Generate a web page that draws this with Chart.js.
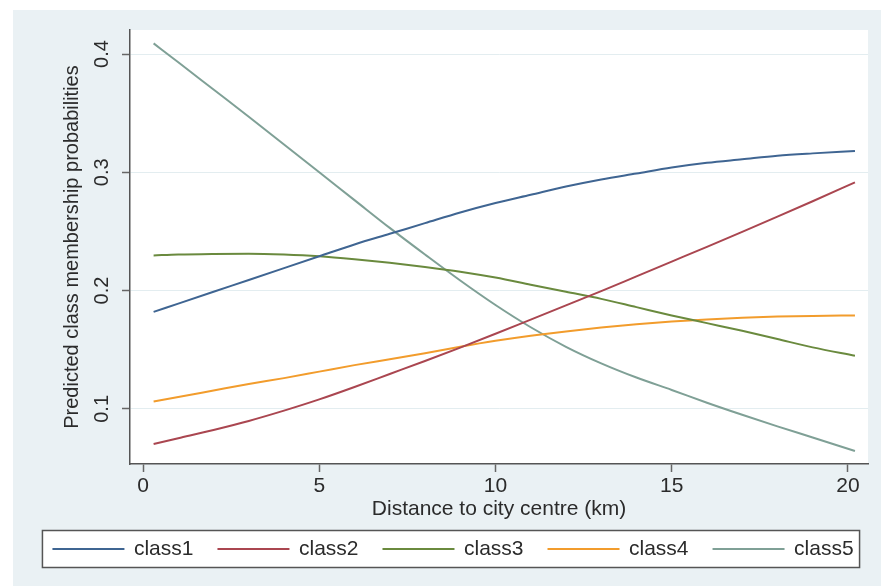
<!DOCTYPE html>
<html>
<head>
<meta charset="utf-8">
<script src="https://cdn.jsdelivr.net/npm/chart.js@4.4.1/dist/chart.umd.min.js"></script>
<style>
  html, body { margin: 0; padding: 0; background: #ffffff; }
  #panel { position: absolute; left: 13px; top: 10px; width: 868px; height: 576px; background: #eaf1f4; }
  canvas { display: block; }
</style>
</head>
<body>
<div id="panel"><canvas id="c" width="868" height="576"></canvas></div>
<script>
const xs = [0.3, 1, 2, 3, 4, 5, 6, 7, 8, 9, 10, 11, 12, 13, 14, 15, 16, 17, 18, 19, 20.2];
const class1 = [0.182, 0.189, 0.199, 0.209, 0.219, 0.229, 0.239, 0.248, 0.257, 0.266, 0.274, 0.281, 0.288, 0.294, 0.299, 0.304, 0.308, 0.311, 0.314, 0.316, 0.318];
const class2 = [0.0703, 0.0752, 0.0822, 0.0898, 0.0985, 0.108, 0.1185, 0.1295, 0.1405, 0.1518, 0.1635, 0.1755, 0.1875, 0.1995, 0.212, 0.2245, 0.237, 0.2497, 0.2625, 0.2755, 0.2915];
const class3 = [0.2297, 0.2305, 0.231, 0.2312, 0.2305, 0.229, 0.2265, 0.2235, 0.220, 0.216, 0.211, 0.205, 0.199, 0.193, 0.186, 0.179, 0.1725, 0.166, 0.159, 0.152, 0.145];
const class4 = [0.1062, 0.110, 0.1155, 0.121, 0.126, 0.1315, 0.137, 0.142, 0.147, 0.1525, 0.1575, 0.1618, 0.1655, 0.1687, 0.1715, 0.1738, 0.1756, 0.177, 0.178, 0.1786, 0.179];
const class5 = [0.409, 0.393, 0.370, 0.347, 0.3235, 0.300, 0.2765, 0.253, 0.2305, 0.2085, 0.1878, 0.169, 0.1525, 0.1385, 0.1265, 0.116, 0.1052, 0.095, 0.0852, 0.0758, 0.0644];
const seriesNames = ['class1', 'class2', 'class3', 'class4', 'class5'];
const xTicks = [0, 5, 10, 15, 20];
const yTicks = [0.1, 0.2, 0.3, 0.4];
const yTickLabels = ['0.1', '0.2', '0.3', '0.4'];
const xTitle = 'Distance to city centre (km)';
const yTitle = 'Predicted class membership probabilities';

const colors = ['#3f6592', '#aa4650', '#6a8a3e', '#f29c2c', '#7fa096'];
const allSeries = [class1, class2, class3, class4, class5];

const FONT = "'Liberation Sans', Arial, Helvetica, sans-serif";
const TEXT = '#2b2b2b';

const bgPlugin = {
  id: 'bg',
  beforeDraw(chart) {
    const ctx = chart.ctx;
    const a = chart.chartArea;
    ctx.save();
    ctx.fillStyle = '#ffffff';
    ctx.fillRect(a.left, a.top, a.right - a.left, a.bottom - a.top);
    const hb = chart.legend && chart.legend.legendHitBoxes;
    if (hb && hb.length) {
      const first = hb[0], last = hb[hb.length - 1];
      const cy = first.top + first.height / 2;
      const x0 = first.left - 11, x1 = last.left + last.width + 6;
      ctx.fillStyle = '#ffffff';
      ctx.fillRect(x0, cy - 18.5, x1 - x0, 37);
      ctx.strokeStyle = '#555555';
      ctx.lineWidth = 1.5;
      ctx.strokeRect(x0, cy - 18.5, x1 - x0, 37);
    }
    ctx.restore();
  }
};

new Chart(document.getElementById('c'), {
  type: 'line',
  data: {
    datasets: allSeries.map((s, k) => ({
      label: seriesNames[k],
      data: xs.map((x, i) => ({ x: x, y: s[i] })),
      borderColor: colors[k],
      backgroundColor: colors[k],
      borderWidth: 2,
      pointRadius: 0,
      cubicInterpolationMode: 'monotone',
      fill: false
    }))
  },
  options: {
    responsive: false,
    animation: false,
    layout: { padding: { left: 13, right: 0, top: 20, bottom: 16.5 } },
    plugins: {
      tooltip: { enabled: false },
      legend: {
        position: 'bottom',
        align: 'center',
        labels: {
          boxWidth: 70,
          boxHeight: 0.01,
          padding: 25,
          color: TEXT,
          font: { family: FONT, size: 21 }
        }
      }
    },
    scales: {
      x: {
        type: 'linear',
        min: -0.37,
        max: 20.57,
        afterBuildTicks(axis) { axis.ticks = xTicks.map(v => ({ value: v })); },
        afterFit(axis) { axis.height = 49.5; },
        grid: { drawOnChartArea: false, drawTicks: true, tickLength: 8, tickColor: '#666666', tickWidth: 1.5 },
        border: { display: true, color: '#555555', width: 1.5 },
        ticks: { color: TEXT, font: { family: FONT, size: 21 }, padding: 2, maxRotation: 0, autoSkip: false },
        title: { display: true, text: xTitle, color: TEXT, font: { family: FONT, size: 21 }, padding: { top: 0, bottom: -8 } }
      },
      y: {
        type: 'linear',
        min: 0.0534,
        max: 0.4203,
        afterBuildTicks(axis) { axis.ticks = yTicks.map(v => ({ value: v })); },
        afterFit(axis) { axis.width = 104; },
        grid: { drawOnChartArea: true, color: '#e3edf0', lineWidth: 1, drawTicks: true, tickLength: 8, tickColor: '#666666', tickWidth: 1.5 },
        border: { display: true, color: '#555555', width: 1.5 },
        ticks: {
          color: TEXT,
          font: { family: FONT, size: 20 },
          padding: 6,
          minRotation: 90,
          maxRotation: 90,
          crossAlign: 'center',
          autoSkip: false,
          callback(value) { const i = yTicks.indexOf(value); return i >= 0 ? yTickLabels[i] : ''; }
        },
        title: { display: true, text: yTitle, color: TEXT, font: { family: FONT, size: 20 }, padding: { top: 34, bottom: 0 } }
      },
      yRightSpacer: {
        type: 'linear',
        position: 'right',
        display: true,
        afterFit(axis) { axis.width = 13; },
        grid: { display: false, drawOnChartArea: false },
        border: { display: false },
        ticks: { display: false }
      }
    }
  },
  plugins: [bgPlugin]
});
</script>
</body>
</html>
